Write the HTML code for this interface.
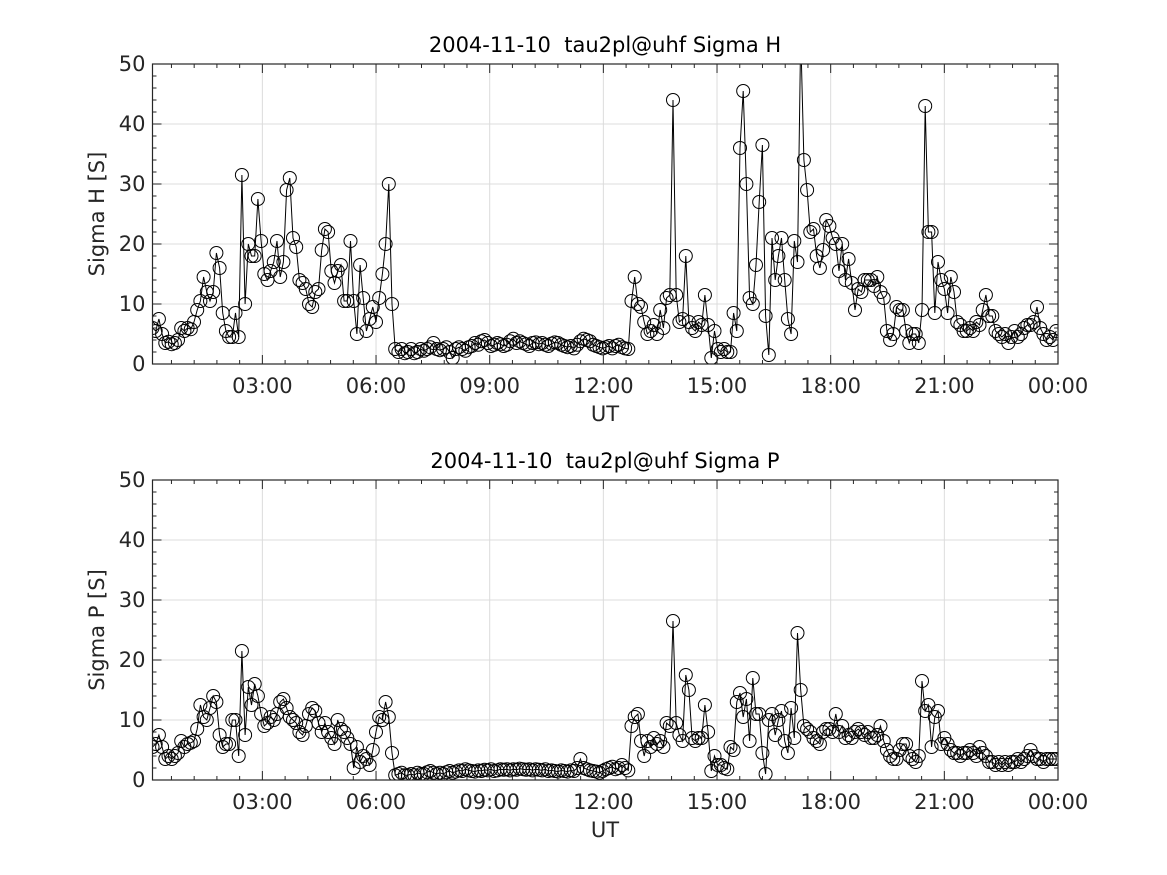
<!DOCTYPE html>
<html><head><meta charset="utf-8"><style>
body{margin:0;background:#fff;width:1167px;height:875px;overflow:hidden}
svg{display:block;font-family:"DejaVu Sans","Liberation Sans",sans-serif}
</style></head><body>
<svg id="chart" width="1167" height="875" viewBox="0 0 1167 875" xmlns="http://www.w3.org/2000/svg"></svg>
<script>
const startHour = 0.1;
const stepHour = 0.08428;
const sigmaH = [
6,5.5,7.5,5,3.5,3.7,3.3,3.5,4,6,
5.5,6,5.8,7,9,10.5,14.5,12,10.5,12,
18.5,16,8.5,5.5,4.5,4.5,8.5,4.5,31.5,10,
20,18,18,27.5,20.5,15,14,15.5,17,20.5,
14.5,17,29,31,21,19.5,14,13.5,12.5,10,
9.5,12,12.5,19,22.5,22,15.5,13.5,15.5,16.5,
10.5,10.5,20.5,10.5,5,16.5,11,5.5,7.5,9.5,
7,11,15,20,30,10,2.5,2,2.5,1.8,
2,2.5,1.8,2,2.5,2.2,2.5,2.8,3.5,2.5,
2.3,2.5,2.8,2,1,2.5,2.8,2.5,2.2,2.8,
3,3.5,3.2,3.8,4,3.5,3,3.2,3.5,3.3,
3,3.2,3.8,4.2,3.5,3.8,3.5,3.3,3,3.5,
3.6,3.3,3.5,3.2,3,3.4,3.6,3.5,3.2,3,
2.8,3,2.6,3.2,3.8,4.2,4,3.8,3.2,3,
2.8,2.6,2.8,3,2.6,3,3.2,2.8,2.6,2.5,
10.5,14.5,10,9.5,7,5,5.5,6.5,5,9,
6,11,11.5,44,11.5,7,7.5,18,7,6,
5.5,7,6.5,11.5,6.5,1,5.5,2.5,2,2.5,
2,2,8.5,5.5,36,45.5,30,11,10,16.5,
27,36.5,8,1.5,21,14,18,21,14,7.5,
5,20.5,17,55,34,29,22,22.5,18,16,
19,24,23,21,20,15.5,20,14,17.5,13.5,
9,12.5,12,14,14,14,13,14.5,12,11,
5.5,4,5,9.5,9,9,5.5,3.5,5,5,
3.5,9,43,22,22,8.5,17,14,12.5,8.5,
14.5,12,7,6.5,5.5,5.5,6,5.5,7,6.5,
9,11.5,8,8,5.5,5,4.5,5,3.5,4.5,
5.5,4.5,5,6,6.5,6.5,7,9.5,6,5,4,4.5,4,5.5];
const sigmaP = [
5.5,6,7.5,5.5,3.5,4,3.5,4,4.5,6.5,
5.5,6,6.2,6.5,8.5,12.5,10.5,10,12,14,
13,7.5,5.5,6,6,10,10,4,21.5,7.5,
15.5,12.5,16,14,11,9,9.5,10.5,10,11,
13,13.5,12,10.5,10,9.5,8,7.5,9,11,
12,11.5,9.5,8,9.5,8,7,6,10,8.5,
8,7,6,2,5.5,3,4,3.5,2.5,5,
8,10.5,10,13,10.5,4.5,0.8,1,1.2,0.8,
0.8,1,0.8,1.2,1,1,1.3,1.5,1.2,1,
1.2,1,1.3,1.5,1.2,1.4,1.6,1.5,1.8,1.6,
1.5,1.4,1.6,1.5,1.7,1.6,1.8,1.5,1.6,1.8,
1.7,1.8,1.6,1.8,1.7,1.9,1.8,1.7,1.8,1.6,
1.8,1.7,1.6,1.8,1.5,1.6,1.5,1.4,1.6,1.5,
1.4,1.6,1.5,2,3.5,2,1.8,1.6,1.5,1.4,
1.2,1.5,1.8,2,2.2,1.8,2,2.5,2,1.6,
9,10.5,11,6.5,4,6.5,5.5,7,6,6.5,
5.5,9.5,9,26.5,9.5,7.5,6.5,17.5,15,7,
6.5,7,7,12.5,8,1.5,4,2.5,2.5,2,
1.8,5.5,5,13,14.5,10.5,13.5,6.5,17,11,
11,4.5,1,10,11,7.5,10,11.5,6.5,4.5,
12,7,24.5,15,9,8.5,8,7,6.5,6,
8,8.5,8.5,8,11,8,9,7,7.5,7,
8,8.5,8,7.5,8,7,7,7.5,9,6.5,
5,4,3.5,3.5,5,6,6,4,3.5,3,
4,16.5,11.5,12.5,5.5,10.5,11.5,6,7,6,
5,4.5,4.5,4,4.5,4.5,5,4.5,4,5.5,
4.5,4,3,3,2.5,3,2.5,3,2.5,3,
3,3.5,3,3.5,4,5,4,3.5,3.5,3,3.5,3.5,3.5,3.5];
const xTickHours = [3,6,9,12,15,18,21,24];
const xTickLabels = ["03:00","06:00","09:00","12:00","15:00","18:00","21:00","00:00"];
const yTicks = [0,10,20,30,40,50];

const NS="http://www.w3.org/2000/svg";
const svg=document.getElementById('chart');
function mk(tag,attrs,parent){const e=document.createElementNS(NS,tag);for(const k in attrs)e.setAttribute(k,attrs[k]);(parent||svg).appendChild(e);return e;}
const X0=152.5,X1=1058,H0=0.1,H1=24;
function xs(h){return X0+(h-H0)/(H1-H0)*(X1-X0);}

function panel(top,vals,title,ylab,key){
  const bottom=top+300;
  function ys(v){return bottom-v*6;}
  const g=mk('g',{});
  
  
  const clipId='clip-'+key;
  const cp=mk('clipPath',{id:clipId},g);mk('rect',{x:X0,y:top,width:X1-X0,height:300},cp);
  for(const t of yTicks){if(t===0||t===50)continue;const l=mk('line',{x1:X0,x2:X1,y1:ys(t),y2:ys(t),stroke:'#dcdcdc','stroke-width':1},g);
    
    }
  for(const h of xTickHours){if(h>=24)continue;const l=mk('line',{x1:xs(h),x2:xs(h),y1:top,y2:bottom,stroke:'#dcdcdc','stroke-width':1},g);
    
    }
  const sg=mk('g',{'clip-path':'url(#'+clipId+')'},g);
  
  
  let d='';
  vals.forEach((v,i)=>{const h=startHour+i*stepHour;d+=(i?'L':'M')+xs(h).toFixed(1)+','+ys(v).toFixed(1);});
  const pl=mk('path',{d:d,fill:'none',stroke:'#000','stroke-width':1},sg);
  
  
  vals.forEach((v,i)=>{const h=startHour+i*stepHour;
    const c=mk('circle',{cx:xs(h).toFixed(1),cy:ys(v).toFixed(1),r:6.5,fill:'none',stroke:'#000','stroke-width':1},sg);
    
    });
  const box=mk('rect',{x:X0,y:top,width:X1-X0,height:300,fill:'none',stroke:'#262626','stroke-width':1.2},g);
  
  
  for(let v=0;v<=50;v+=2){const major=v%10===0;const len=major?9:4;const y=ys(v);
    mk('line',{x1:X0,x2:X0+len,y1:y,y2:y,stroke:'#262626','stroke-width':1},g);
    mk('line',{x1:X1,x2:X1-len,y1:y,y2:y,stroke:'#262626','stroke-width':1},g);}
  for(const t of yTicks){const tx=mk('text',{x:X0-7,y:ys(t)+7,'text-anchor':'end','font-size':21,fill:'#262626'},g);tx.textContent=t;
    
    }
  for(let k=0;k<=40;k++){const h=k*0.6;if(h<H0)continue;const major=k%5===0;const len=major?9:4;const x=xs(h);
    mk('line',{x1:x,x2:x,y1:bottom,y2:bottom-len,stroke:'#262626','stroke-width':1},g);
    mk('line',{x1:x,x2:x,y1:top,y2:top+len,stroke:'#262626','stroke-width':1},g);}
  xTickHours.forEach((h,i)=>{const tx=mk('text',{x:xs(h),y:bottom+29,'text-anchor':'middle','font-size':21,fill:'#262626'},g);tx.textContent=xTickLabels[i];
    
    });
  const xl=mk('text',{x:605,y:bottom+57,'text-anchor':'middle','font-size':21,fill:'#262626'},g);xl.textContent='UT';
  
  
  const yl=mk('text',{x:0,y:0,'text-anchor':'middle','font-size':21,fill:'#262626',transform:'translate(104,'+(top+150)+') rotate(-90)'},g);yl.textContent=ylab;
  
  
  const tt=mk('text',{x:605,y:top-12,'text-anchor':'middle','font-size':21,fill:'#000'},g);tt.textContent=title;
  
  
}
panel(64,sigmaH,'2004-11-10\u00a0\u00a0tau2pl@uhf Sigma H','Sigma H [S]','sigma-h');
panel(480,sigmaP,'2004-11-10\u00a0\u00a0tau2pl@uhf Sigma P','Sigma P [S]','sigma-p');
</script>
</body></html>
